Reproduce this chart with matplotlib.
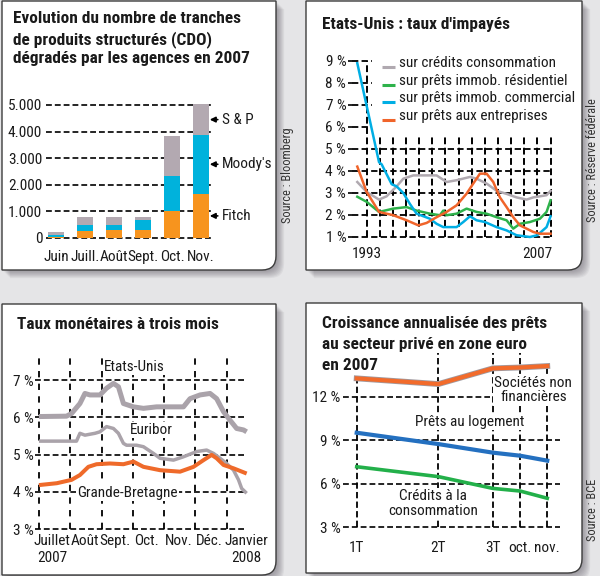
import os
import numpy as np
import matplotlib
matplotlib.use('Agg')
import matplotlib.pyplot as plt
from matplotlib.path import Path
from matplotlib.patches import PathPatch
from matplotlib import font_manager as fm
import matplotlib.patheffects as pe

# --- panel 1 : CDO degrades (tranches) ---
mois_cdo = ['Juin', 'Juill.', 'Août', 'Sept.', 'Oct.', 'Nov.']
fitch = [50, 277, 315, 315, 1030, 1660]
moodys = [80, 214, 176, 365, 1290, 2220]
sp = [80, 315, 315, 100, 1510, 1140]
agences = ['Fitch', "Moody's", 'S & P']

# --- panel 2 : taux d'impayes Etats-Unis (%) ---
an_conso = [1993.0, 1993.7, 1994.63, 1995.2, 1995.95, 1996.45, 1997.2, 1998.2, 1998.95, 1999.7, 2000.45,
            2001.45, 2001.95, 2002.7, 2003.45, 2004.2, 2004.95, 2005.7, 2006.2, 2007.2, 2007.5]
conso = [3.5, 3.05, 2.7, 2.85, 3.3, 3.65, 3.8, 3.8, 3.8, 3.5, 3.58,
         3.73, 3.65, 3.43, 3.1, 2.96, 2.8, 2.7, 2.8, 2.9, 3.1]
an_resid = [1993.0, 1993.7, 1994.63, 1995.7, 1996.7, 1997.45, 1998.45, 1999.2, 1999.45, 1999.7, 2000.45,
            2001.2, 2001.95, 2002.7, 2003.45, 2004.2, 2004.7, 2005.2, 2005.95, 2006.7, 2007.2, 2007.5]
resid = [2.83, 2.6, 2.14, 2.29, 2.36, 2.2, 2.06, 1.99, 2.2, 1.99, 2.06,
         2.29, 2.14, 2.06, 1.9, 1.76, 1.38, 1.6, 1.68, 1.83, 2.14, 2.67]
an_comm = [1993.0, 1994.63, 1994.83, 1995.58, 1995.95, 1996.45, 1996.95, 1997.45, 1998.45, 1998.95, 1999.45,
           2000.45, 2000.95, 2001.45, 2001.95, 2002.58, 2003.45, 2004.2, 2004.95, 2005.95, 2006.5, 2007.2, 2007.5]
comm = [8.9, 4.4, 4.3, 3.4, 3.3, 3.0, 2.5, 2.06, 1.83, 1.6, 1.45,
        1.45, 1.68, 1.94, 1.76, 1.68, 1.45, 1.3, 1.08, 1.0, 1.08, 1.45, 1.94]
an_entr = [1993.0, 1993.7, 1994.63, 1995.7, 1996.7, 1997.58, 1998.2, 1998.95, 1999.7, 2000.45, 2001.2, 2001.7,
           2002.2, 2002.7, 2003.2, 2003.7, 2004.2, 2004.7, 2005.2, 2005.7, 2006.2, 2006.7, 2007.5]
entr = [4.2, 3.05, 2.14, 1.99, 1.76, 1.53, 1.64, 1.9, 2.14, 2.44, 2.97, 3.43,
        3.88, 3.88, 3.5, 2.8, 2.36, 1.9, 1.53, 1.38, 1.23, 1.15, 1.15]
legende2 = ['sur crédits consommation', 'sur prêts immob. résidentiel',
            'sur prêts immob. commercial', 'sur prêts aux entreprises']

# --- panel 3 : taux monetaires a trois mois (%), x = mois depuis juillet 2007 ---
mois3 = ['Juillet\n2007', 'Août', 'Sept.', 'Oct.', 'Nov.', 'Déc.', 'Janvier\n2008']
m_us = [0, 0.88, 1.04, 1.31, 1.47, 1.63, 1.95, 2.16, 2.38, 2.54, 2.7, 3.02, 3.34, 3.76, 4.3, 4.62,
        4.83, 5.15, 5.47, 5.68, 5.9, 6.1, 6.32, 6.54, 6.64]
us = [6.02, 6.03, 6.1, 6.37, 6.64, 6.6, 6.6, 6.78, 6.91, 6.82, 6.37, 6.28, 6.24, 6.28, 6.28, 6.28,
      6.5, 6.6, 6.64, 6.5, 6.15, 5.93, 5.7, 5.66, 5.61]
m_eur = [0, 1.2, 1.31, 1.47, 1.79, 1.95, 2.16, 2.38, 2.54, 2.7, 2.8, 3.12, 3.34, 3.66, 3.87, 4.3,
         4.62, 5.04, 5.36, 5.58, 5.79, 6.0, 6.22, 6.38, 6.48, 6.64]
euribor = [5.36, 5.36, 5.57, 5.52, 5.57, 5.61, 5.75, 5.7, 5.57, 5.3, 5.25, 5.25, 5.21, 5.03, 4.9, 4.85,
           4.94, 5.08, 5.12, 5.03, 4.9, 4.76, 4.58, 4.32, 4.09, 3.96]
m_gb = [0, 0.57, 1.04, 1.31, 1.58, 1.84, 2.27, 2.7, 3.02, 3.34, 3.87, 4.51, 4.94, 5.26, 5.52, 5.68,
        5.9, 6.22, 6.64]
gb = [4.18, 4.23, 4.32, 4.45, 4.67, 4.74, 4.76, 4.74, 4.81, 4.67, 4.58, 4.54, 4.67, 4.85, 4.99, 4.9,
      4.72, 4.63, 4.49]

# --- panel 4 : croissance des prets zone euro 2007 (%) ---
periodes = ['1T', '2T', '3T', 'oct.', 'nov.']
pos4 = [0, 3, 5, 6, 7]
societes = [13.25, 12.86, 13.94, 14.0, 14.1]
logement = [9.51, 8.73, 8.14, 7.93, 7.59]
credits = [7.17, 6.49, 5.68, 5.5, 5.0]


# find a condensed sans font (the original uses a condensed grotesque)
def wnum(w):
    return w if isinstance(w, int) else fm.weight_dict.get(w, 400)


def cherche(poids):
    ordre = ['liberation', 'roboto', 'noto', 'dejavu', 'open', 'lato', 'inter']
    best = None
    for f in fm.fontManager.ttflist:
        cle = (f.name + ' ' + os.path.basename(f.fname)).lower()
        etroit = 'narrow' in cle or ('condensed' in cle and not any(k in cle for k in ['semi', 'extra', 'ultra']))
        if not etroit or f.style != 'normal' or wnum(f.weight) != poids:
            continue
        rang = next((i for i, k in enumerate(ordre) if k in cle), 99)
        if best is None or rang < best[0]:
            best = (rang, f.fname)
    return best[1] if best else None


f_reg = cherche(400)
f_bold = cherche(700)


def FP(bold=False, size=10):
    f = f_bold if bold else f_reg
    if f:
        return fm.FontProperties(fname=f, size=size)
    return fm.FontProperties(family=['Liberation Sans', 'DejaVu Sans'], weight='bold' if bold else 'normal',
                             size=size * 0.85)


W, H = 600, 576
fig = plt.figure(figsize=(6, 5.76), dpi=100)
fig.patch.set_facecolor('#e5e5e7')
bg = fig.add_axes([0, 0, 1, 1])
bg.set_xlim(0, W)
bg.set_ylim(H, 0)
bg.axis('off')
rend = fig.canvas.get_renderer()


def largeur(s, fp):
    t = bg.text(0, 0, s, fontproperties=fp)
    w = t.get_window_extent(rend).width
    t.remove()
    return w


# fit font sizes to the widths measured on the reference
S_TITRE = 12 * 227 / largeur('Evolution du nombre de tranches', FP(True, 12))
S_TXT = 10 * 156 / largeur('sur crédits consommation', FP(False, 10))
S_SRC = 8 * 96 / largeur('Source : Bloomberg', FP(False, 8))

DASH = (0, (3.5, 1.8))
TXT = '#1a1a1a'


def panel(x0, y0, x1, y1, r=14):
    verts = np.array([(x0, y0), (x1, y0), (x1, y1 - r), (x1, y1), (x1 - r, y1), (x0, y1), (x0, y0)], float)
    codes = [Path.MOVETO, Path.LINETO, Path.LINETO, Path.CURVE3, Path.CURVE3, Path.LINETO, Path.CLOSEPOLY]
    for k in range(1, 10):
        bg.add_patch(PathPatch(Path(verts + k * 0.9, codes), fc='#5a5560', ec='none', alpha=0.07))
    bg.add_patch(PathPatch(Path(verts, codes), fc='white', ec='#3c3c3c', lw=1))


def px_axes(x0, y0, x1, y1):
    ax = fig.add_axes([x0 / W, 1 - y1 / H, (x1 - x0) / W, (y1 - y0) / H])
    ax.patch.set_alpha(0)
    for s in ax.spines.values():
        s.set_visible(False)
    return ax


def style_ticks(ax):
    for lab in ax.get_xticklabels() + ax.get_yticklabels():
        lab.set_fontproperties(FP(False, S_TXT))
        lab.set_color(TXT)


panel(2, 1, 276, 270)
panel(306, 1, 582, 270)
panel(2, 304, 276, 575)
panel(306, 303, 582, 573)

# titles
for y, t in zip([23.3, 44.3, 63.3], ['Evolution du nombre de tranches', 'de produits structurés (CDO)',
                                      'dégradés par les agences en 2007']):
    bg.text(13, y, t, fontproperties=FP(True, S_TITRE), color=TXT, va='baseline')
bg.text(322, 29.3, "Etats-Unis : taux d'impayés", fontproperties=FP(True, S_TITRE), color=TXT, va='baseline')
bg.text(17, 329, 'Taux monétaires à trois mois', fontproperties=FP(True, S_TITRE), color=TXT, va='baseline')
for y, t in zip([328.3, 348.8, 369.5], ['Croissance annualisée des prêts', 'au secteur privé en zone euro',
                                        'en 2007']):
    bg.text(322, y, t, fontproperties=FP(True, S_TITRE), color=TXT, va='baseline')

# sources
for x, y, s in [(288, 175, 'Source : Bloomberg'), (592, 160, 'Source : Réserve fédérale'),
                (593, 510, 'Source : BCE')]:
    bg.text(x, y, s, rotation=90, ha='center', va='center', fontproperties=FP(False, S_SRC), color='#333333')

# ---------------- panel 1 ----------------
ax1 = px_axes(45, 102.3, 215, 239.3)
ax1.set_xlim(-0.38, 5.48)
ax1.set_ylim(-50, 5100)
yt1 = np.arange(0, 5001, 1000)
ax1.hlines(yt1, -0.33, 5.38, colors='k', lw=1.2, linestyles=DASH, zorder=1)
x1 = np.arange(len(mois_cdo))
bas = np.zeros(len(mois_cdo))
for vals, col, nom in zip([fitch, moodys, sp], ['#f7941e', '#00b2dc', '#b3a9b1'], agences):
    ax1.bar(x1, vals, 0.53, bottom=bas, color=col, zorder=2)
    mid = bas[-1] + vals[-1] / 2
    ax1.annotate(nom, xy=(5.3, mid), xytext=(5.72, mid), va='center', ha='left',
                 fontproperties=FP(False, S_TXT), color=TXT,
                 arrowprops=dict(arrowstyle='-|>', color='k', lw=1.2, mutation_scale=8, shrinkA=1, shrinkB=0),
                 annotation_clip=False)
    bas = bas + np.array(vals)
ax1.set_yticks(yt1, [f'{v:,}'.replace(',', '.') for v in yt1])
ax1.set_xticks(x1, mois_cdo)
ax1.tick_params(axis='y', length=0, pad=2)
ax1.tick_params(axis='x', length=0, pad=8)
style_ticks(ax1)

# ---------------- panel 2 ----------------
ax2 = px_axes(351.7, 58.8, 551.9, 239.2)
ax2.set_xlim(1992.58, 2007.6)
ax2.set_ylim(0.9, 9.1)
ax2.hlines([1, 2, 3, 4, 5], 1992.58, 2007.5, colors='k', lw=1.3, linestyles=DASH, zorder=1)
ax2.hlines([6, 7, 8, 9], 1992.58, 1994.08, colors='k', lw=1.3, linestyles=DASH, zorder=1)
grille2 = np.linspace(1993.7, 2007.5, 15)
ax2.vlines(grille2[1:], 1, 5.6, colors='k', lw=1.4, linestyles=DASH, zorder=1)
ax2.vlines(grille2[0], 1, 9, colors='k', lw=1.4, linestyles=DASH, zorder=1)
couleurs2 = ['#b0a9b0', '#2eb24b', '#00aee4', '#f0642a']
for xs, ys, c in zip([an_conso, an_resid, an_comm, an_entr], [conso, resid, comm, entr], couleurs2):
    ax2.plot(xs, ys, color=c, lw=1.8, zorder=3)
for i, (lab, c) in enumerate(zip(legende2, couleurs2)):
    yl = 8.9 - i * 0.8
    ax2.plot([1994.85, 1995.83], [yl - 0.18, yl - 0.18], color=c, lw=2.2, solid_capstyle='butt')
    ax2.text(1996.1, yl, lab, fontproperties=FP(False, S_TXT), color=TXT, va='center', ha='left')
ax2.set_yticks(range(1, 10), [f'{v} %' for v in range(1, 10)])
ax2.set_xticks([])
ax2.tick_params(axis='y', length=3, width=1.2, pad=1)
style_ticks(ax2)
ax2.text(0, -0.045, '1993', transform=ax2.transAxes, ha='left', va='top', fontproperties=FP(False, S_TXT),
         color=TXT)
ax2.text(1, -0.045, '2007', transform=ax2.transAxes, ha='right', va='top', fontproperties=FP(False, S_TXT),
         color=TXT)

# ---------------- panel 3 ----------------
ax3 = px_axes(34.9, 352.1, 250.1, 530.9)
ax3.set_xlim(-0.13, 6.75)
ax3.set_ylim(2.95, 7.75)
ax3.hlines([3, 4, 5, 6, 7], -0.13, 6.64, colors='k', lw=1.2, linestyles=DASH, zorder=1)
ax3.vlines(range(7), 3, 7.72, colors='k', lw=1.3, linestyles=(0, (3.5, 3.5)), zorder=1)
ax3.plot(m_us, us, color='#aaa3aa', lw=3.6, zorder=3, solid_capstyle='butt')
ax3.plot(m_eur, euribor, color='#aaa3aa', lw=2.5, zorder=3, solid_capstyle='butt')
ax3.plot(m_gb, gb, color='#ef6a2a', lw=2.9, zorder=4, solid_capstyle='butt')
boite = dict(fc='white', ec='none', pad=1)
for x, y, s in [(3.05, 7.36, 'Etats-Unis'), (3.6, 5.66, 'Euribor'), (2.84, 3.98, 'Grande-Bretagne')]:
    ax3.text(x, y, s, ha='center', va='center', fontproperties=FP(False, S_TXT), color=TXT, bbox=boite, zorder=2)
ax3.set_yticks([3, 4, 5, 6, 7], [f'{v} %' for v in [3, 4, 5, 6, 7]])
ax3.set_xticks([0.42, 1.46, 2.44, 3.44, 4.46, 5.46, 6.64], mois3)
ax3.tick_params(axis='y', length=0, pad=1)
ax3.tick_params(axis='x', length=0, pad=2.5)
style_ticks(ax3)

# ---------------- panel 4 ----------------
ax4 = px_axes(343.1, 351.5, 563.6, 528.8)
ax4.set_xlim(-0.5, 7.6)
ax4.set_ylim(2.9, 15.1)
ax4.hlines([3, 6, 9], -0.5, 7.47, colors='k', lw=1.2, linestyles=DASH, zorder=1)
ax4.hlines(12, -0.5, 4.9, colors='k', lw=1.2, linestyles=DASH, zorder=1)
hauts = [societes[0], 15, 15, 15, societes[-1]]
ax4.vlines(pos4, 3, hauts, colors='k', lw=1.3, linestyles=DASH, zorder=1)
ax4.plot(pos4, societes, color='#f26b2b', lw=3.0, zorder=4,
         path_effects=[pe.Stroke(linewidth=4.2, foreground='#a09aa0'), pe.Normal()])
ax4.plot(pos4, logement, color='#2470c0', lw=3.0, zorder=4)
ax4.plot(pos4, credits, color='#23b04a', lw=2.6, zorder=4)
for x, y, s in [(6.49, 12.45, 'Sociétés non\nfinancières'), (4.14, 10.27, 'Prêts au logement'),
                (2.8, 4.65, 'Crédits à la\nconsommation')]:
    ax4.text(x, y, s, ha='center', va='center', fontproperties=FP(False, S_TXT), color=TXT,
             bbox=boite, zorder=2, linespacing=1.05)
ax4.set_yticks([3, 6, 9, 12], [f'{v} %' for v in [3, 6, 9, 12]])
ax4.set_xticks(pos4, periodes)
ax4.tick_params(axis='y', length=0, pad=2)
ax4.tick_params(axis='x', length=0, pad=8.5)
style_ticks(ax4)

plt.savefig('out.png', dpi=100, facecolor=fig.get_facecolor())
